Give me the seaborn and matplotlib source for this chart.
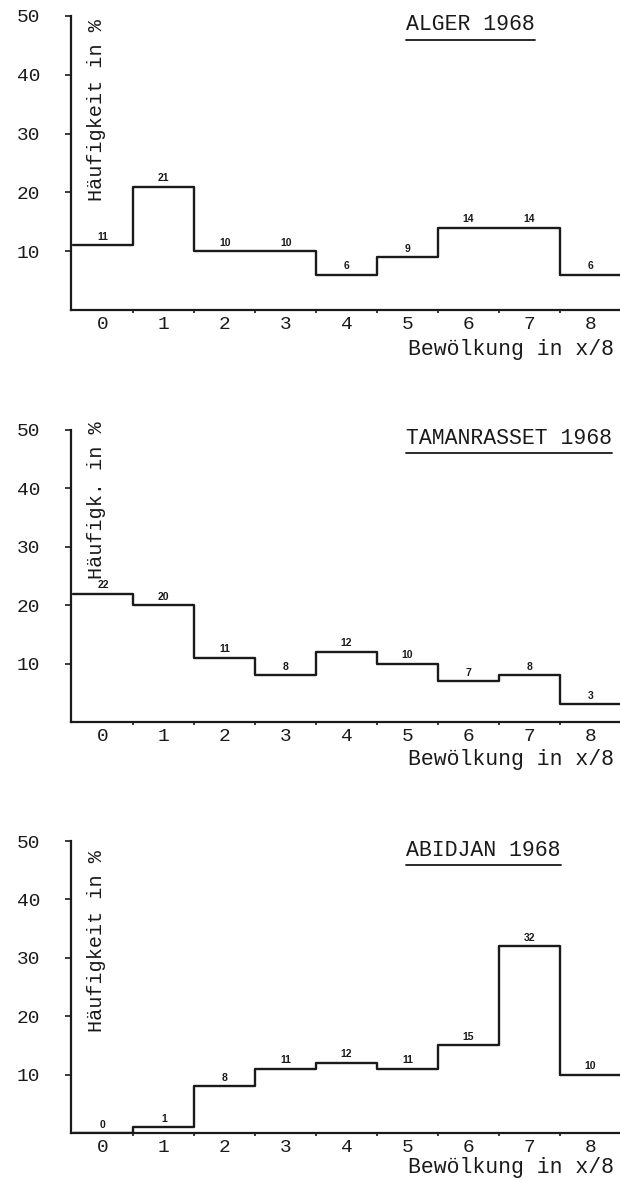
import numpy as np
import pandas as pd
import matplotlib
matplotlib.use("Agg")
import matplotlib.pyplot as plt
from matplotlib.lines import Line2D
import seaborn as sns

# Bewölkungsklassen (Achtel) und Häufigkeiten in %
okta = [0, 1, 2, 3, 4, 5, 6, 7, 8]
alger = [11, 21, 10, 10, 6, 9, 14, 14, 6]
tamanrasset = [22, 20, 11, 8, 12, 10, 7, 8, 3]
abidjan = [0, 1, 8, 11, 12, 11, 15, 32, 10]

stations = ["ALGER 1968", "TAMANRASSET 1968", "ABIDJAN 1968"]
ylabels = ["Häufigkeit in %", "Häufigk. in %", "Häufigkeit in %"]
yticks = [10, 20, 30, 40, 50]

sns.set_theme(style="white")
plt.rcParams["font.family"] = ["Liberation Mono", "DejaVu Sans Mono"]

W, H = 620, 1181
fig = plt.figure(figsize=(W / 100, H / 100), dpi=100)

# Achsenlage in Pixeln: (oben bei 50 %, unten bei 0 %)
panel_px = [(16, 310), (430, 722), (841, 1133)]
left_px, right_px = 71.3, 620.6
label_bottom = [18.5, 24.5, 17.3]  # Unterkante der y-Beschriftung in Datenwerten
xlabel_drop = [40, 38, 34]         # Abstand "Bewölkung" unter der Grundlinie (px)

ink = "#1a1a1a"
axes = []
for i, (series, name) in enumerate(zip([alger, tamanrasset, abidjan], stations)):
    top, bottom = panel_px[i]
    ax = fig.add_axes([left_px / W, 1 - bottom / H,
                       (right_px - left_px) / W, (bottom - top) / H])
    df = pd.DataFrame({"okta": okta, "freq": series})
    sns.histplot(data=df, x="okta", weights="freq", discrete=True,
                 element="step", fill=False, color=ink, linewidth=1.7, ax=ax)
    ax.set_xlim(-0.52, 8.5)
    ax.set_ylim(0, 50)
    ax.set_xlabel("")
    ax.set_ylabel("")

    for s in ["top", "right"]:
        ax.spines[s].set_visible(False)
    for s in ["left", "bottom"]:
        ax.spines[s].set_color(ink)
        ax.spines[s].set_linewidth(1.6)

    ax.set_yticks(yticks)
    ax.set_yticklabels([str(t) for t in yticks])
    ax.set_xticks(okta)
    ax.set_xticklabels([str(o) for o in okta])
    ax.set_xticks(np.array(okta[:-1]) + 0.5, minor=True)
    ax.tick_params(axis="y", which="major", left=True, length=4.5, width=1.2,
                   pad=18, labelsize=14, colors=ink, direction="out")
    ax.tick_params(axis="x", which="major", bottom=True, length=0, pad=4,
                   labelsize=14, colors=ink)
    ax.tick_params(axis="x", which="minor", bottom=True, length=2.5, width=1.2,
                   color=ink, direction="out")

    # Werte über den Stufen
    for x, v in zip(okta, series):
        ax.annotate(str(v), (x, v), xytext=(0, 2.5), textcoords="offset points",
                    ha="center", va="bottom", fontsize=7.5, fontweight="bold",
                    family="Liberation Sans", color=ink)

    ax.text(-0.1, label_bottom[i], ylabels[i], rotation=90, ha="center",
            va="bottom", fontsize=14.5, color=ink)
    ax.text((406 - left_px) / (right_px - left_px), 1 - 9 / (bottom - top), name,
            transform=ax.transAxes, ha="left", va="center", fontsize=15.5,
            color=ink)
    ax.text(1 - 7 / (right_px - left_px), -xlabel_drop[i] / (bottom - top),
            "Bewölkung in x/8", transform=ax.transAxes, ha="right",
            va="center", fontsize=15.5, color=ink)
    axes.append(ax)

# Unterstreichung der Stationsnamen
fig.canvas.draw()
renderer = fig.canvas.get_renderer()
for ax in axes:
    title = ax.texts[-2]
    bb = title.get_window_extent(renderer)
    y = (bb.y0 - 4) / H
    fig.add_artist(Line2D([bb.x0 / W, bb.x1 / W], [y, y], color=ink, lw=1.3,
                          transform=fig.transFigure))

fig.savefig("out.png", dpi=100, facecolor="white")
